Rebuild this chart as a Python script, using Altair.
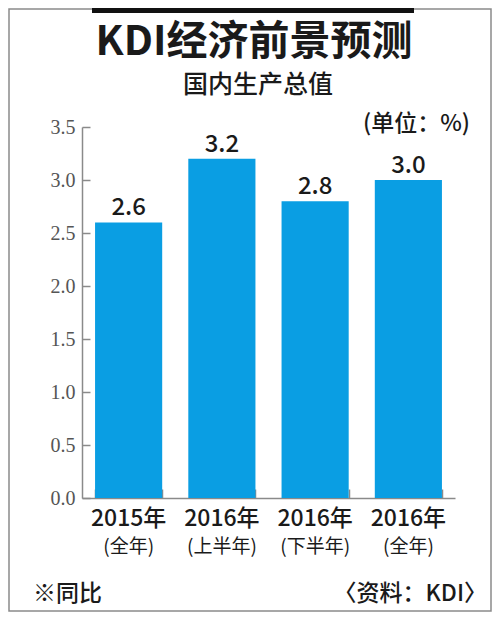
import altair as alt
import pandas as pd

# ---- data ----
cats = ["2015年(全年)", "2016年(上半年)", "2016年(下半年)", "2016年(全年)"]
line1 = ["2015年", "2016年", "2016年", "2016年"]
line2 = ["(全年)", "(上半年)", "(下半年)", "(全年)"]
values = [2.6, 3.2, 2.8, 3.0]
y_ticks = [0.0, 0.5, 1.0, 1.5, 2.0, 2.5, 3.0, 3.5]

title_text = "KDI经济前景预测"
subtitle_text = "国内生产总值"
unit_text = "(单位：%)"
note_text = "※同比"
source_text = "〈资料：KDI〉"

df = pd.DataFrame({"cat": cats, "line1": line1, "line2": line2, "value": values})
one = pd.DataFrame({"k": [0]})

# ---- layout ----
W, H = 373, 371
PAD_L, PAD_T = 74, 119
TOTAL_W, TOTAL_H = 484, 604

FONT = "Noto Sans CJK SC"
BLUE = "#0a9ee3"
GRAY = "#8a8a8a"
INK = "#1a1a1a"

xscale = alt.Scale(domain=cats, paddingInner=0.28, paddingOuter=0.14)
yscale = alt.Scale(domain=[0, 3.5], nice=False)

base = alt.Chart(df)

bars = base.mark_bar(color=BLUE).encode(
    x=alt.X("cat:N", scale=xscale, sort=cats,
            axis=alt.Axis(orient="bottom", labels=False, ticks=False, domain=True,
                          domainColor=GRAY, domainWidth=1.5, title=None, grid=False)),
    y=alt.Y("value:Q", scale=yscale,
            axis=alt.Axis(orient="left", values=y_ticks, format=".1f", ticks=False,
                          labelPadding=7, labelFont="Liberation Serif", labelFontSize=20,
                          labelColor="#555555", domainColor=GRAY, domainWidth=1.5,
                          title=None, grid=False)),
)

vals = base.mark_text(font=FONT, fontSize=24, fontWeight=500, dy=-7,
                      baseline="alphabetic", color=INK).encode(
    x=alt.X("cat:N", scale=xscale, sort=cats,
            axis=alt.Axis(orient="top", offset=-H, labels=False, domain=False, ticks=True,
                          tickSize=9, tickColor=GRAY, tickWidth=1.5, tickBand="extent",
                          title=None, grid=False)),
    y=alt.Y("value:Q", scale=yscale,
            axis=alt.Axis(orient="right", offset=-W, values=y_ticks, labels=False,
                          domain=False, ticks=True, tickSize=8, tickColor=GRAY,
                          tickWidth=1.5, title=None, grid=False)),
    text=alt.Text("value:Q", format=".1f"),
)

l1 = base.mark_text(font=FONT, fontSize=23, fontWeight=500, baseline="alphabetic",
                    color=INK).encode(
    x=alt.X("cat:N", scale=xscale, sort=cats, axis=None),
    y=alt.value(399),
    text="line1:N",
)
l2 = base.mark_text(font=FONT, fontSize=19, baseline="alphabetic", color=INK).encode(
    x=alt.X("cat:N", scale=xscale, sort=cats, axis=None),
    y=alt.value(426),
    text="line2:N",
)


def label(text, x, y, size, weight="normal", align="center"):
    return alt.Chart(one).mark_text(
        text=text, font=FONT, fontSize=size, fontWeight=weight, align=align,
        baseline="alphabetic", color=INK,
    ).encode(x=alt.value(x), y=alt.value(y))


title = label(title_text, 172, -72, 41, weight="bold")
subtitle = label(subtitle_text, 176, -34, 25, weight=500)
unit = label(unit_text, 388, 3.5, 23, weight=500, align="right")
note = label(note_text, -49, 474, 23, weight=500, align="left")
source = label(source_text, 405, 474, 23, weight=500, align="right")

frame = alt.Chart(one).mark_rect(fillOpacity=0, stroke=GRAY, strokeWidth=1.5).encode(
    x=alt.value(-PAD_L + 1), x2=alt.value(TOTAL_W - PAD_L - 1),
    y=alt.value(-PAD_T + 1), y2=alt.value(TOTAL_H - PAD_T - 1),
)
topbar = alt.Chart(one).mark_rect(color="#111111").encode(
    x=alt.value(10), x2=alt.value(332),
    y=alt.value(-PAD_T), y2=alt.value(-PAD_T + 5),
)

chart = alt.layer(
    frame, topbar, bars, vals, l1, l2, title, subtitle, unit, note, source
).resolve_axis(x="independent", y="independent").properties(
    width=W, height=H,
    padding={"left": PAD_L, "top": PAD_T, "right": TOTAL_W - W - PAD_L,
             "bottom": TOTAL_H - H - PAD_T},
    autosize=alt.AutoSizeParams(type="none"),
    background="white",
).configure_view(stroke=None)

chart.save("out.html", embed_options={"renderer": "svg", "actions": False})
